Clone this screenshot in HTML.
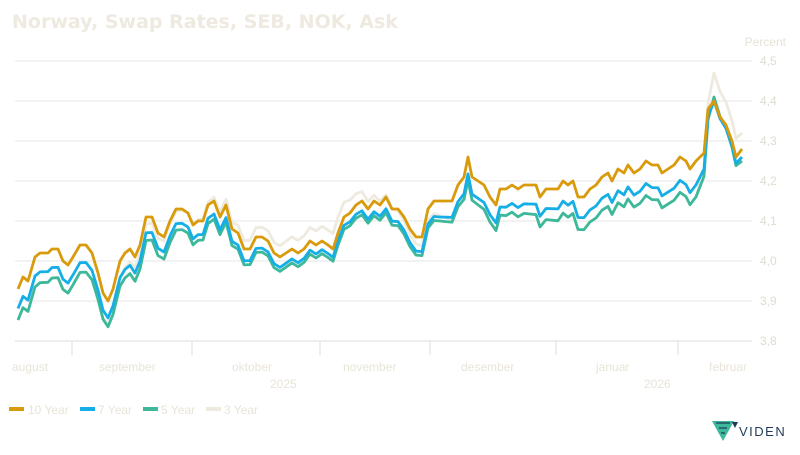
<!DOCTYPE html>
<html><head><meta charset="utf-8"><style>
body{margin:0;background:#fff;width:800px;height:450px;overflow:hidden;font-family:"Liberation Sans",sans-serif}
</style></head><body>
<svg id="s" width="800" height="450" xmlns="http://www.w3.org/2000/svg">
<text x="12" y="28" font-family="DejaVu Sans,Liberation Sans,sans-serif" font-weight="bold" font-size="19" fill="#eeeadf">Norway, Swap Rates, SEB, NOK, Ask</text>
<text x="786" y="46" text-anchor="end" font-size="12" fill="#e6e2d6">Percent</text>
<g id="grid"></g>
<g id="lines" fill="none" stroke-width="2.8" stroke-linejoin="round"></g>
<g font-size="12" fill="#e8e4d8">
<text x="12" y="371">august</text>
<text x="99" y="371">september</text>
<text x="232" y="371">oktober</text>
<text x="343" y="371">november</text>
<text x="461" y="371">desember</text>
<text x="596" y="371">januar</text>
<text x="709" y="371">februar</text>
<text x="270" y="388">2025</text>
<text x="644" y="388">2026</text>
</g>
<g font-size="12" fill="#e8e4d8">
<rect x="9" y="407" width="15" height="4" fill="#d99a0b"/><text x="28" y="414">10 Year</text>
<rect x="80" y="407" width="15" height="4" fill="#15aee6"/><text x="98" y="414">7 Year</text>
<rect x="143" y="407" width="15" height="4" fill="#3db89a"/><text x="161" y="414">5 Year</text>
<rect x="206" y="407" width="15" height="4" fill="#eeeadf"/><text x="224" y="414">3 Year</text>
</g>
<g transform="translate(712,421)">
<path d="M0,0 L22,0 L11,20 Z" fill="#3db89a"/>
<path d="M4,2 L18,2 M7,7 L15,7 M9,12 L13,12" stroke="#1f3b5a" stroke-width="1.2"/>
<path d="M20,1 L26,1 L23,7Z" fill="#1f3b5a"/>
<text x="27" y="15" font-size="13" fill="#1f3b5a" letter-spacing="1.5">VIDEN</text>
</g>
</svg>
<script>
function Y(v){return 341-(v-3.8)*400;}
var g=document.getElementById('grid'),h='';
for(var i=0;i<8;i++){var v=3.8+i*0.1,y=Y(v);
h+='<line x1="15" x2="752" y1="'+y+'" y2="'+y+'" stroke="#e6e6e6" stroke-width="1"/>';
h+='<text x="760" y="'+(y+4)+'" font-size="12" fill="#e0dccf">'+v.toFixed(1).replace('.',',')+'</text>';}
h+='<line x1="15" x2="752" y1="341" y2="341" stroke="#ddd"/>';
[72,192,320,430,556,678].forEach(function(x){h+='<line x1="'+x+'" x2="'+x+'" y1="341" y2="355" stroke="#ddd"/>';});
g.innerHTML=h;
var p=[18,3.93,23,3.96,28,3.95,35,4.01,40,4.02,48,4.02,52,4.03,58,4.03,63,4.00,68,3.99,73,4.01,80,4.04,86,4.04,92,4.02,98,3.97,103,3.92,108,3.90,113,3.93,120,4.00,125,4.02,130,4.03,135,4.01,140,4.04,146,4.11,152,4.11,158,4.07,164,4.06,170,4.10,176,4.13,182,4.13,188,4.12,193,4.09,198,4.10,203,4.10,208,4.14,214,4.15,220,4.11,226,4.14,232,4.08,238,4.07,244,4.03,250,4.03,256,4.06,262,4.06,268,4.05,274,4.02,280,4.01,286,4.02,292,4.03,298,4.02,304,4.03,310,4.05,316,4.04,322,4.05,328,4.04,333,4.03,338,4.07,344,4.11,350,4.12,356,4.14,362,4.15,368,4.13,374,4.15,380,4.14,386,4.16,392,4.13,398,4.13,404,4.11,410,4.08,416,4.06,422,4.06,428,4.13,434,4.15,440,4.15,446,4.15,452,4.15,458,4.19,464,4.21,468,4.26,472,4.21,478,4.20,484,4.19,490,4.16,496,4.14,500,4.18,506,4.18,512,4.19,518,4.18,524,4.19,530,4.19,536,4.19,540,4.16,546,4.18,552,4.18,558,4.18,563,4.20,568,4.19,573,4.20,578,4.16,584,4.16,590,4.18,596,4.19,602,4.21,608,4.22,612,4.20,618,4.23,624,4.22,628,4.24,634,4.22,640,4.23,646,4.25,652,4.24,658,4.24,662,4.22,668,4.23,674,4.24,680,4.26,686,4.25,690,4.23,696,4.25,704,4.27,708,4.38,714,4.40,720,4.36,726,4.34,732,4.30,736,4.26,742,4.28];
function interp(t,x){for(var i=0;i<t.length-2;i+=2){if(x<=t[i+2]){var f=(x-t[i])/(t[i+2]-t[i]);return t[i+1]+f*(t[i+3]-t[i+1]);}}return t[t.length-1];}
var o7=[0,0.05,140,0.04,240,0.03,340,0.02,440,0.04,560,0.05,700,0.06,708,0.02,714,0.0,742,0.02,800,0.02];
var o5=[0,0.03,140,0.02,240,0.01,340,0.01,440,0.01,560,0.03,700,0.03,714,-0.01,742,0.01,800,0.01];
var o3=[0,0.0,100,0.0,140,0.04,240,0.06,340,0.07,430,0.02,460,0.0,700,0.0,708,0.04,714,0.06,742,0.07,800,0.07];
var d10='',d7='',d5='',d3='';
for(var i=0;i<p.length;i+=2){var x=p[i],v=p[i+1],v7=v-interp(o7,x),v5=v7-interp(o5,x),v3=v5+interp(o3,x);
var c=i?'L':'M';d10+=c+x+','+Y(v).toFixed(1);d7+=c+x+','+Y(v7).toFixed(1);d5+=c+x+','+Y(v5).toFixed(1);d3+=c+x+','+Y(v3).toFixed(1);}
document.getElementById('lines').innerHTML='<path d="'+d3+'" stroke="#eeeadf"/><path d="'+d5+'" stroke="#3db89a"/><path d="'+d7+'" stroke="#15aee6"/><path d="'+d10+'" stroke="#d99a0b"/>';
</script>
</body></html>
